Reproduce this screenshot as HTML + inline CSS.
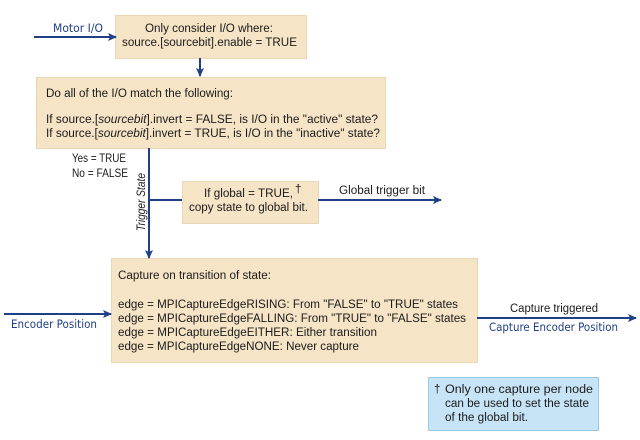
<!DOCTYPE html>
<html><head><meta charset="utf-8"><style>
body{margin:0;background:#fff}
svg{display:block}
text{font-family:"Liberation Sans",sans-serif;font-size:11.5px;fill:#1a1a1a}
.b{fill:#1f3f86;font-family:"DejaVu Sans","Liberation Sans",sans-serif}
</style></head><body>
<svg width="640" height="440" viewBox="0 0 640 440">
<defs><marker id="a" markerWidth="10" markerHeight="10" refX="8" refY="4" orient="auto" markerUnits="userSpaceOnUse"><path d="M0,0 L9,4 L0,8 L2,4z" fill="#1f3f86"/></marker></defs>
<g fill="#f6e4c6" stroke="#ead6b4" stroke-width="1">
<rect x="115.5" y="15.5" width="191" height="43"/>
<rect x="36.5" y="77.5" width="349" height="71"/>
<rect x="182.5" y="181.5" width="136" height="42"/>
<rect x="111.5" y="258.5" width="366" height="104"/>
</g>
<rect x="428.5" y="377.5" width="170" height="53" fill="#c7e4f6" stroke="#9dc9e6"/>
<g stroke="#1f3f86" stroke-width="2" fill="none">
<line x1="34" y1="37" x2="116" y2="37" marker-end="url(#a)"/>
<line x1="200" y1="58" x2="200" y2="76" marker-end="url(#a)"/>
<line x1="149" y1="148" x2="149" y2="258" marker-end="url(#a)"/>
<line x1="149" y1="200" x2="182" y2="200"/>
<line x1="318" y1="200" x2="441" y2="200" marker-end="url(#a)"/>
<line x1="4" y1="314" x2="111" y2="314" marker-end="url(#a)"/>
<line x1="477" y1="318" x2="636" y2="318" marker-end="url(#a)"/>
</g>
<text x="53" y="32" class="b" textLength="50" lengthAdjust="spacingAndGlyphs">Motor I/O</text>
<text x="145" y="32" textLength="128" lengthAdjust="spacingAndGlyphs">Only consider I/O where:</text>
<text x="122" y="46" textLength="175" lengthAdjust="spacingAndGlyphs">source.[sourcebit].enable = TRUE</text>
<text x="46" y="97" textLength="187" lengthAdjust="spacingAndGlyphs">Do all of the I/O match the following:</text>
<text x="46" y="123" textLength="332" lengthAdjust="spacingAndGlyphs">If source.[<tspan font-style="italic">sourcebit</tspan>].invert = FALSE, is I/O in the "active" state?</text>
<text x="46" y="137" textLength="334" lengthAdjust="spacingAndGlyphs">If source.[<tspan font-style="italic">sourcebit</tspan>].invert = TRUE, is I/O in the "inactive" state?</text>
<text x="72" y="162" textLength="54" lengthAdjust="spacingAndGlyphs">Yes = TRUE</text>
<text x="72" y="177" textLength="56" lengthAdjust="spacingAndGlyphs">No = FALSE</text>
<text transform="translate(145,231) rotate(-90)" font-style="italic" textLength="58" lengthAdjust="spacingAndGlyphs">Trigger State</text>
<text x="204" y="197" textLength="89" lengthAdjust="spacingAndGlyphs">If global = TRUE,</text>
<text x="295" y="193" font-size="13">†</text>
<text x="189" y="211" textLength="119" lengthAdjust="spacingAndGlyphs">copy state to global bit.</text>
<text x="339" y="194" textLength="86" lengthAdjust="spacingAndGlyphs">Global trigger bit</text>
<text x="118" y="279" textLength="153" lengthAdjust="spacingAndGlyphs">Capture on transition of state:</text>
<text x="118" y="308" textLength="340" lengthAdjust="spacingAndGlyphs">edge = MPICaptureEdgeRISING: From "FALSE" to "TRUE" states</text>
<text x="118" y="322" textLength="348" lengthAdjust="spacingAndGlyphs">edge = MPICaptureEdgeFALLING: From "TRUE" to "FALSE" states</text>
<text x="118" y="336" textLength="259" lengthAdjust="spacingAndGlyphs">edge = MPICaptureEdgeEITHER: Either transition</text>
<text x="118" y="350" textLength="241" lengthAdjust="spacingAndGlyphs">edge = MPICaptureEdgeNONE: Never capture</text>
<text x="11" y="328" class="b" textLength="86" lengthAdjust="spacingAndGlyphs">Encoder Position</text>
<text x="510" y="312" textLength="88" lengthAdjust="spacingAndGlyphs">Capture triggered</text>
<text x="489" y="331" class="b" textLength="129" lengthAdjust="spacingAndGlyphs">Capture Encoder Position</text>
<text x="434" y="393">†</text>
<text x="445" y="393" textLength="148" lengthAdjust="spacingAndGlyphs">Only one capture per node</text>
<text x="445" y="407" textLength="144" lengthAdjust="spacingAndGlyphs">can be used to set the state</text>
<text x="445" y="421" textLength="83" lengthAdjust="spacingAndGlyphs">of the global bit.</text>
</svg>
</body></html>
